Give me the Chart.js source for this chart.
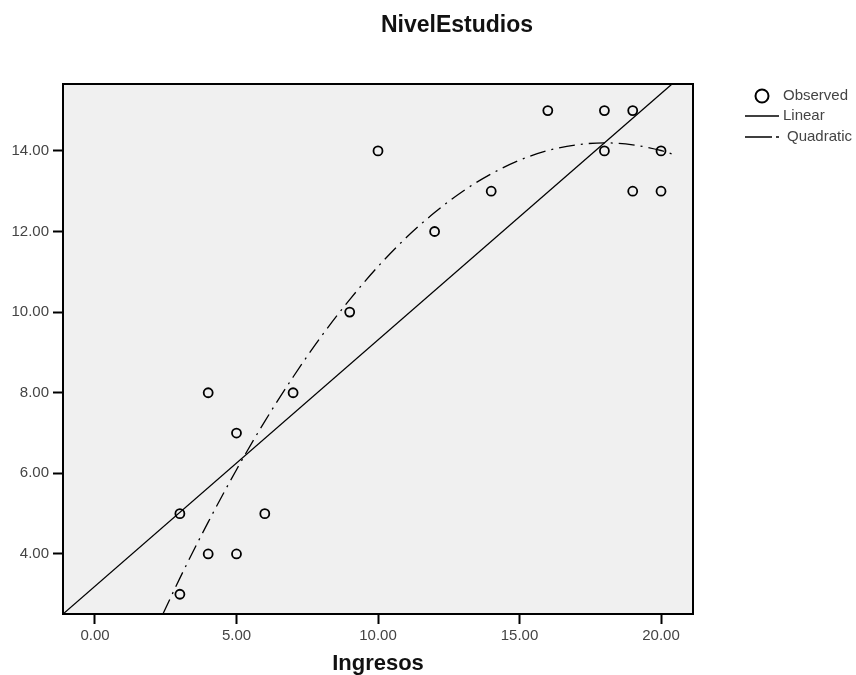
<!DOCTYPE html>
<html>
<head>
<meta charset="utf-8">
<script src="https://cdn.jsdelivr.net/npm/chart.js@4.4.0/dist/chart.umd.min.js"></script>
<style>
  html, body { margin: 0; padding: 0; background: #fff; }
  #wrap { width: 856px; height: 675px; }
</style>
</head>
<body>
<div id="wrap"><canvas id="grafica" width="856" height="675"></canvas></div>
<script>
// Datos observados (Ingresos, NivelEstudios)
const ingresos = [3, 3, 4, 4, 5, 5, 6, 7, 9, 10, 12, 14, 16, 18, 18, 19, 19, 20, 20];
const nivelEstudios = [5, 3, 8, 4, 7, 4, 5, 8, 10, 14, 12, 13, 15, 15, 14, 15, 13, 14, 13];

// Recta lineal (extremos)
const linealX = [-1.13, 20.39];
const linealY = [2.51, 15.66];

// Curva cuadrática
const cuadX = [2.4, 3, 4, 5, 6, 7, 8, 9, 10, 11, 12, 13, 14, 15, 16, 17, 18, 19, 20, 20.5];
const cuadY = [2.51, 3.4, 4.79, 6.09, 7.29, 8.39, 9.4, 10.31, 11.13, 11.85, 12.47, 13.0, 13.43, 13.77, 14.01, 14.15, 14.2, 14.15, 14.01, 13.9];

// Marcas de los ejes
const ticksX = [0, 5, 10, 15, 20];
const ticksY = [4, 6, 8, 10, 12, 14];

const FUENTE = "'Liberation Sans', Arial, sans-serif";

const toXY = (xs, ys) => xs.map((x, i) => ({ x: x, y: ys[i] }));

// Fondo gris y marco del área de trazado, más títulos y leyenda
const decorado = {
    id: 'decorado',
    beforeDatasetsDraw(chart) {
        const { ctx, chartArea: a } = chart;
        ctx.save();
        ctx.fillStyle = '#f0f0f0';
        ctx.fillRect(a.left, a.top, a.right - a.left, a.bottom - a.top);
        ctx.restore();
    },
    afterDraw(chart) {
        const { ctx, chartArea: a } = chart;
        ctx.save();
        ctx.strokeStyle = '#000';
        ctx.lineWidth = 2;
        ctx.strokeRect(a.left, a.top, a.right - a.left, a.bottom - a.top);

        // títulos
        ctx.fillStyle = '#111';
        ctx.textAlign = 'center';
        ctx.textBaseline = 'alphabetic';
        ctx.font = 'bold 23px ' + FUENTE;
        ctx.fillText('NivelEstudios', 457, 32);
        ctx.font = 'bold 22px ' + FUENTE;
        ctx.fillText('Ingresos', 378, 670);

        // leyenda
        ctx.textAlign = 'left';
        ctx.textBaseline = 'middle';
        ctx.font = '15px ' + FUENTE;
        ctx.fillStyle = '#444';
        ctx.strokeStyle = '#000';
        ctx.lineWidth = 2;
        ctx.beginPath();
        ctx.arc(762, 96, 6.5, 0, Math.PI * 2);
        ctx.stroke();
        ctx.fillText('Observed', 783, 96);

        ctx.lineWidth = 1.5;
        ctx.beginPath();
        ctx.moveTo(745, 116);
        ctx.lineTo(779, 116);
        ctx.stroke();
        ctx.fillText('Linear', 783, 116);

        ctx.beginPath();
        ctx.moveTo(745, 137);
        ctx.lineTo(772, 137);
        ctx.moveTo(776, 137);
        ctx.lineTo(779, 137);
        ctx.stroke();
        ctx.fillText('Quadratic', 787, 137);
        ctx.restore();
    }
};

new Chart(document.querySelector('#grafica'), {
    type: 'scatter',
    data: {
        datasets: [
            {
                label: 'Observed',
                data: toXY(ingresos, nivelEstudios),
                pointStyle: 'circle',
                pointRadius: 4.5,
                pointHoverRadius: 4.5,
                pointBorderWidth: 1.8,
                pointBorderColor: '#000',
                pointBackgroundColor: 'rgba(0,0,0,0)',
                showLine: false,
                order: 0
            },
            {
                label: 'Linear',
                data: toXY(linealX, linealY),
                showLine: true,
                borderColor: '#000',
                borderWidth: 1.3,
                pointRadius: 0,
                order: 1
            },
            {
                label: 'Quadratic',
                data: toXY(cuadX, cuadY),
                showLine: true,
                cubicInterpolationMode: 'monotone',
                borderColor: '#000',
                borderWidth: 1.3,
                borderDash: [16, 6, 2, 6],
                pointRadius: 0,
                order: 2
            }
        ]
    },
    options: {
        responsive: false,
        animation: false,
        events: [],
        layout: { padding: { left: 0, top: 84, right: 163, bottom: 0 } },
        plugins: { legend: { display: false }, title: { display: false }, tooltip: { enabled: false } },
        scales: {
            x: {
                type: 'linear',
                min: -1.13,
                max: 21.13,
                afterFit: s => { s.height = 61; },
                afterBuildTicks: s => { s.ticks = ticksX.map(v => ({ value: v })); },
                grid: { drawOnChartArea: false, drawTicks: true, tickLength: 10, tickWidth: 2, tickColor: '#000' },
                border: { display: true, color: '#000', width: 2 },
                ticks: {
                    padding: 3,
                    color: '#444',
                    font: { family: FUENTE, size: 15 },
                    maxRotation: 0,
                    callback: v => Number(v).toFixed(2)
                }
            },
            y: {
                type: 'linear',
                min: 2.51,
                max: 15.66,
                afterFit: s => { s.width = 63; },
                afterBuildTicks: s => { s.ticks = ticksY.map(v => ({ value: v })); },
                grid: { drawOnChartArea: false, drawTicks: true, tickLength: 10, tickWidth: 2, tickColor: '#000' },
                border: { display: true, color: '#000', width: 2 },
                ticks: {
                    padding: 4,
                    color: '#444',
                    font: { family: FUENTE, size: 15 },
                    callback: v => Number(v).toFixed(2)
                }
            }
        }
    },
    plugins: [decorado]
});
</script>
</body>
</html>
